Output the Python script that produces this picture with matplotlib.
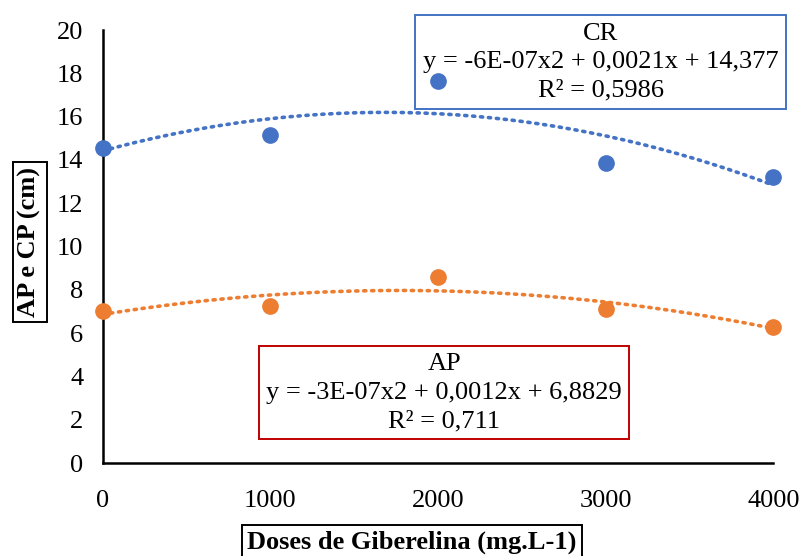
import numpy as np
import matplotlib
matplotlib.use("Agg")
import matplotlib.pyplot as plt

doses = [0, 1000, 2000, 3000, 4000]
cr_vals = [14.55, 15.15, 17.64, 13.86, 13.21]
ap_vals = [7.02, 7.25, 8.59, 7.11, 6.28]
y_ticks = [0, 2, 4, 6, 8, 10, 12, 14, 16, 18, 20]

BLUE = "#4472C4"
ORANGE = "#ED7D31"

plt.rcParams["font.family"] = ["Liberation Serif", "DejaVu Serif"]


def Trend(ax, x, y, color):
    coef = np.polyfit(x, y, 2)
    xs = np.linspace(min(x), max(x), 200)
    ax.plot(xs, np.polyval(coef, xs), linestyle=(0, (0.6, 1.6)), color=color,
            linewidth=2.6, dash_capstyle="round", zorder=2)


def main():
    fig = plt.figure(figsize=(8.03, 5.56), dpi=100)
    ax = fig.add_axes([0.128, 0.167, 0.835, 0.779])

    Trend(ax, doses, cr_vals, BLUE)
    Trend(ax, doses, ap_vals, ORANGE)
    ax.plot(doses, cr_vals, "o", color=BLUE, markersize=11, zorder=5, clip_on=False)
    ax.plot(doses, ap_vals, "o", color=ORANGE, markersize=11, zorder=5, clip_on=False)

    ax.set_xlim(0, 4000)
    ax.set_ylim(0, 20)
    ax.set_xticks(doses)
    ax.set_yticks(y_ticks)
    ax.tick_params(axis="both", length=0, labelsize=19, pad=14)
    ax.tick_params(axis="x", pad=19)
    for s in ["top", "right"]:
        ax.spines[s].set_visible(False)
    ax.spines["left"].set_linewidth(1.8)
    ax.spines["bottom"].set_linewidth(1.8)

    ax.text(0.748, 0.888, "CR\ny = -6E-07x2 + 0,0021x + 14,377\nR² = 0,5986",
            transform=fig.transFigure, ha="center", va="center", fontsize=19, linespacing=1.38,
            zorder=3,
            bbox=dict(boxstyle="square,pad=0.28", facecolor="white", edgecolor=BLUE, linewidth=1.4))
    ax.text(0.553, 0.294, "AP\ny = -3E-07x2 + 0,0012x + 6,8829\nR² = 0,711",
            transform=fig.transFigure, ha="center", va="center", fontsize=19, linespacing=1.38,
            zorder=3,
            bbox=dict(boxstyle="square,pad=0.28", facecolor="white", edgecolor="#C00000", linewidth=1.4))

    fig.text(0.037, 0.565, "AP e CP (cm)", rotation=90, ha="center", va="center",
             fontsize=19, fontweight="bold",
             bbox=dict(boxstyle="square,pad=0.2", facecolor="white", edgecolor="black", linewidth=1.4))
    fig.text(0.513, 0.025, "Doses de Giberelina (mg.L-1)", ha="center", va="center",
             fontsize=19, fontweight="bold",
             bbox=dict(boxstyle="square,pad=0.2", facecolor="white", edgecolor="black", linewidth=1.4))

    fig.savefig("out.png", dpi=100)


if __name__ == "__main__":
    main()
